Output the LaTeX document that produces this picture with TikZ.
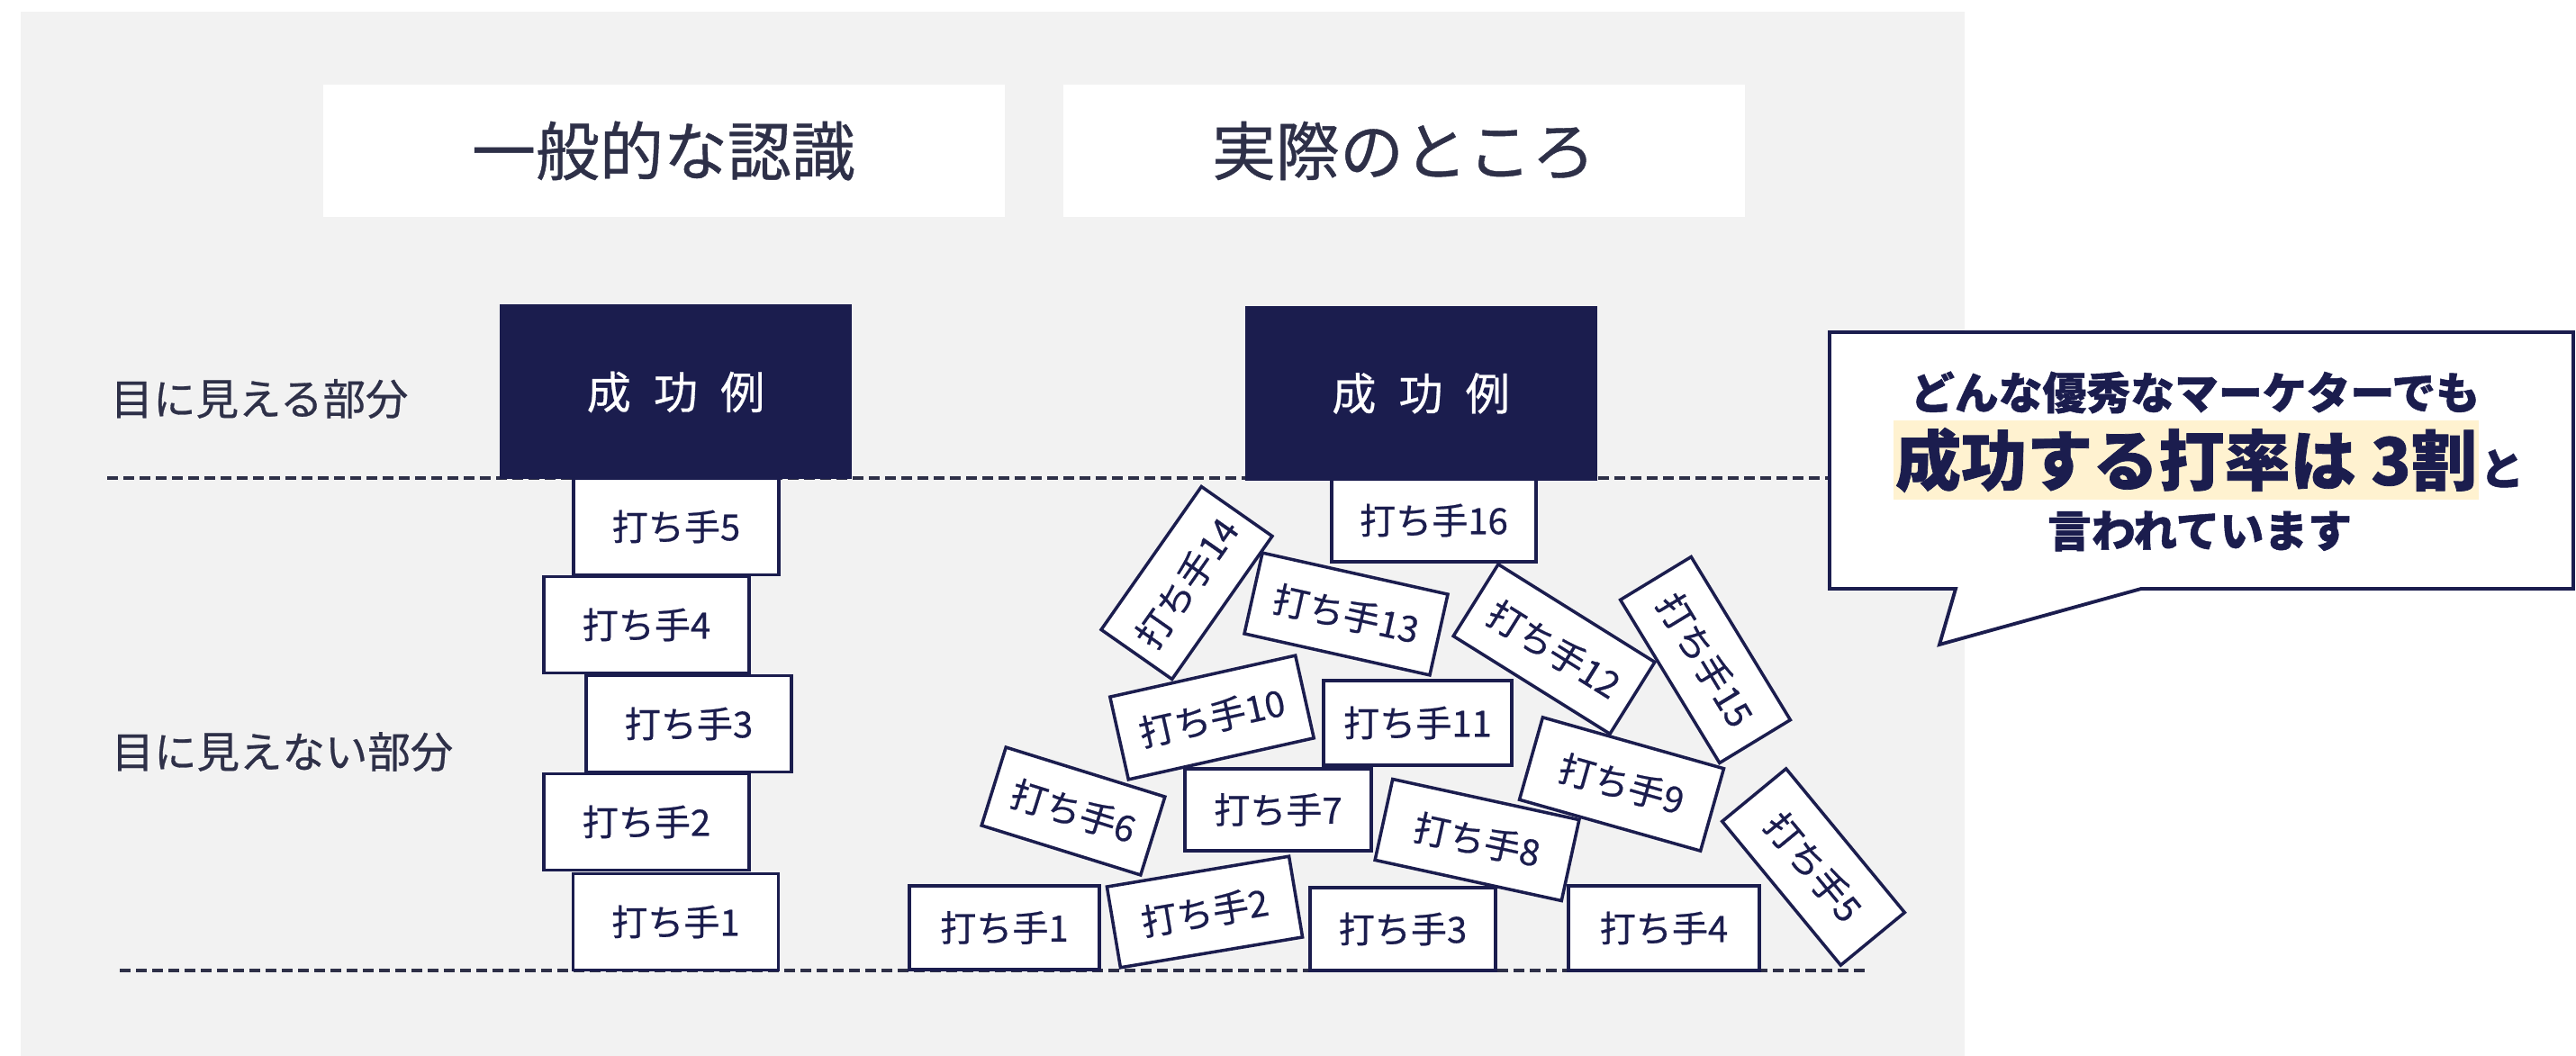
\documentclass[tikz,border=0pt]{standalone}
\usepackage{fontspec}
\newfontfamily\jpfont[FakeBold=0.6]{Noto Sans CJK JP}
\newfontfamily\jpbold[BoldFeatures={FakeBold=1}]{Noto Sans CJK JP}
\usetikzlibrary{positioning}

\definecolor{navy}{RGB}{27,29,78}
\definecolor{inkgray}{RGB}{46,48,72}
\definecolor{paper}{RGB}{242,242,242}
\definecolor{cream}{RGB}{255,242,208}

\begin{document}
\begin{tikzpicture}[
    batter/.style={draw=navy, line width=1pt, fill=white, inner sep=0pt,
        minimum width=2.28cm, minimum height=1.07cm, text=navy,
        font=\jpfont\fontsize{11.4pt}{13pt}\selectfont},
    success/.style={fill=navy, inner sep=0pt, minimum width=3.91cm, minimum height=1.94cm,
        text=white, font=\jpfont\fontsize{14pt}{16pt}\selectfont},
    headbox/.style={fill=white, inner sep=0pt, minimum width=7.57cm, minimum height=1.47cm,
        text=inkgray, font=\jpfont\fontsize{20.2pt}{24pt}\selectfont},
    layer/.style={text=inkgray, anchor=west, inner sep=0pt,
        font=\jpfont\fontsize{13.5pt}{16pt}\selectfont},
    dashline/.style={draw=inkgray, line width=1pt, dash pattern=on 0.12cm off 0.06cm},
    talk/.style={text=navy, inner sep=0pt,
        font=\jpbold\bfseries\fontsize{13.9pt}{16pt}\selectfont}
]
    % Canvas
    \useasboundingbox (0,0) rectangle (28.61,-11.73);
    \fill[white] (0,0) rectangle (28.61,-11.73);
    \fill[paper] (0.23,-0.13) rectangle (21.82,-11.73);

    % Column headings
    \node[headbox] (common) at (7.37,-1.675) {一般的な認識};
    \node[headbox] (actual) at (15.59,-1.675) {実際のところ};

    % Row labels
    \node[layer] (seen) at (1.22,-4.43) {目に見える部分};
    \node[layer] (unseen) at (1.23,-8.35) {目に見えない部分};

    % Ground and surface lines
    \draw[dashline] (1.19,-5.31) -- (21.0,-5.31);
    \draw[dashline] (1.33,-10.78) -- (20.75,-10.78);

    % Neat stack
    \foreach \n/\x/\y in {1/7.505/-10.24, 2/7.18/-9.13, 3/7.65/-8.04, 4/7.18/-6.94, 5/7.51/-5.85}
        \node[batter] (l\n) at (\x,\y) {打ち手\n};

    % Successes on top
    \node[success] (winl) at (7.505,-4.355) {成\hspace{0.25cm}功\hspace{0.25cm}例};
    \node[success] (winr) at (15.78,-4.37) {成\hspace{0.25cm}功\hspace{0.25cm}例};

    % Messy pile
    \foreach \n/\x/\y/\r/\w/\h in {
        1/11.155/-10.305/0/2.11/0.93,
        2/13.38/-10.13/9.5/2.05/0.91,
        3/15.58/-10.32/0/2.06/0.92,
        4/18.48/-10.31/0/2.12/0.94,
        5/20.14/-9.63/-50.5/2.07/0.92,
        6/11.92/-9.01/-17.3/1.85/0.91,
        7/14.195/-8.995/0/2.07/0.91,
        8/16.405/-9.33/-12.3/2.12/0.92,
        9/18.01/-8.71/-15.8/2.09/0.95,
        10/13.46/-7.97/12.6/2.11/0.94,
        11/15.745/-8.03/0/2.09/0.94,
        12/17.26/-7.21/-32/2.05/0.94,
        13/14.95/-6.82/-12.6/2.11/0.92,
        14/13.18/-6.475/55/1.94/0.96,
        15/18.94/-7.33/-58.7/2.12/0.92,
        16/15.925/-5.78/0/2.27/0.92}
        \node[batter, rotate=\r, minimum width=\w cm, minimum height=\h cm] (r\n) at (\x,\y) {打ち手\n};

    % Speech bubble
    \draw[navy, line width=1.1pt, fill=white, line join=miter]
        (20.32,-3.69) -- (28.58,-3.69) -- (28.58,-6.54) -- (23.78,-6.54)
        -- (21.54,-7.16) -- (21.72,-6.54) -- (20.32,-6.54) -- cycle;
    \node[talk] (line1) at (24.38,-4.36) {どんな優秀なマーケターでも};
    \node[talk, fill=cream, minimum width=6.50cm, minimum height=0.88cm,
        font=\jpbold\bfseries\fontsize{20.8pt}{24pt}\selectfont] (line2) at (24.28,-5.11) {成功する打率は 3割};
    \node[talk, anchor=base west] (line2b) at (line2.base east) {と};
    \node[talk] (line3) at (24.43,-5.90) {言われています};
\end{tikzpicture}
\end{document}
